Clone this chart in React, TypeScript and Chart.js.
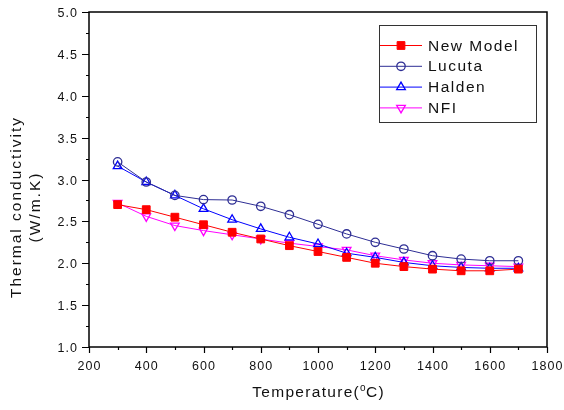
import React, { useEffect, useRef } from "react";
import { Chart, registerables } from "chart.js";

Chart.register(...registerables);

const temperatures = [300, 400, 500, 600, 700, 800, 900, 1000, 1100, 1200, 1300, 1400, 1500, 1600, 1700];
const newModel = [2.70, 2.64, 2.55, 2.46, 2.37, 2.29, 2.21, 2.14, 2.07, 2.00, 1.96, 1.93, 1.91, 1.91, 1.93];
const lucuta = [3.21, 2.97, 2.81, 2.76, 2.755, 2.68, 2.58, 2.465, 2.35, 2.25, 2.17, 2.09, 2.05, 2.03, 2.03];
const halden = [3.16, 2.97, 2.81, 2.65, 2.52, 2.41, 2.31, 2.23, 2.12, 2.07, 2.01, 1.97, 1.95, 1.94, 1.94];
const nfi = [2.72, 2.56, 2.45, 2.39, 2.34, 2.29, 2.24, 2.20, 2.16, 2.09, 2.04, 2.00, 1.98, 1.97, 1.96];

const seriesNames = ["New Model", "Lucuta", "Halden", "NFI"];
const xTicks = [200, 400, 600, 800, 1000, 1200, 1400, 1600, 1800];
const yTicks = [1.0, 1.5, 2.0, 2.5, 3.0, 3.5, 4.0, 4.5, 5.0];
const xTitle = ["Temperature(", "o", "C)"];
const yTitle = ["Thermal conductivity", "(W/m.K)"];

const FONT = '"Liberation Sans", Arial, sans-serif';

function textWidth(ctx: CanvasRenderingContext2D, text: string, font: string, spacing: number) {
  ctx.font = font;
  (ctx as any).letterSpacing = "0px";
  return ctx.measureText(text).width + spacing * (text.length - 1);
}

function drawText(ctx: CanvasRenderingContext2D, text: string, x: number, y: number, font: string, spacing: number) {
  ctx.font = font;
  (ctx as any).letterSpacing = spacing + "px";
  ctx.textAlign = "left";
  ctx.fillText(text, x, y);
  (ctx as any).letterSpacing = "0px";
}

function legendMarker(ctx: CanvasRenderingContext2D, ds: any, x: number, y: number) {
  const r = ds.pointRadius;
  const style = ds.pointStyle;
  ctx.beginPath();
  if (style === "rect") {
    const h = r * Math.SQRT1_2;
    ctx.rect(x - h, y - h, 2 * h, 2 * h);
  } else if (style === "circle") {
    ctx.arc(x, y, r, 0, Math.PI * 2);
  } else {
    const rot = ((ds.pointRotation || 0) * Math.PI) / 180;
    for (let k = 0; k < 3; k++) {
      const ang = rot + (k * 2 * Math.PI) / 3;
      const px = x + Math.sin(ang) * r;
      const py = y - Math.cos(ang) * r;
      if (k === 0) ctx.moveTo(px, py);
      else ctx.lineTo(px, py);
    }
    ctx.closePath();
  }
  ctx.fillStyle = ds.pointBackgroundColor;
  ctx.fill();
  ctx.strokeStyle = ds.pointBorderColor;
  ctx.lineWidth = ds.pointBorderWidth;
  ctx.stroke();
}

const customPlugin = {
  id: "customAxes",
  afterDraw(chart: any) {
    const ctx: CanvasRenderingContext2D = chart.ctx;
    const a = chart.chartArea;
    const xs = chart.scales.x;
    const ys = chart.scales.y;
    ctx.save();
    ctx.strokeStyle = "#000";
    ctx.fillStyle = "#000";
    // frame
    ctx.lineWidth = 1.5;
    ctx.strokeRect(a.left, a.top, a.right - a.left, a.bottom - a.top);
    ctx.lineWidth = 1.2;
    ctx.beginPath();
    xTicks.forEach((v, i) => {
      const px = Math.round(xs.getPixelForValue(v)) + 0.5;
      ctx.moveTo(px, a.bottom);
      ctx.lineTo(px, a.bottom + 6);
      if (i < xTicks.length - 1) {
        const mv = (v + xTicks[i + 1]) / 2;
        const mx = Math.round(xs.getPixelForValue(mv)) + 0.5;
        ctx.moveTo(mx, a.bottom);
        ctx.lineTo(mx, a.bottom + 3);
      }
    });
    yTicks.forEach((v, i) => {
      const py = Math.round(ys.getPixelForValue(v)) + 0.5;
      ctx.moveTo(a.left, py);
      ctx.lineTo(a.left - 7, py);
      if (i < yTicks.length - 1) {
        const mv = (v + yTicks[i + 1]) / 2;
        const my = Math.round(ys.getPixelForValue(mv)) + 0.5;
        ctx.moveTo(a.left, my);
        ctx.lineTo(a.left - 3, my);
      }
    });
    ctx.stroke();

    // tick labels
    const tickFont = "12.5px " + FONT;
    const tickSp = 1.1;
    ctx.textBaseline = "alphabetic";
    ctx.fillStyle = "#111";
    xTicks.forEach((v) => {
      const t = String(v);
      const w = textWidth(ctx, t, tickFont, tickSp);
      const px = xs.getPixelForValue(v);
      drawText(ctx, t, px - w / 2, a.bottom + 23, tickFont, tickSp);
    });
    yTicks.forEach((v) => {
      const t = v.toFixed(1);
      const w = textWidth(ctx, t, tickFont, tickSp);
      const py = ys.getPixelForValue(v);
      drawText(ctx, t, a.left - 12 - w, py + 5, tickFont, tickSp);
    });

    // x title
    const tFont = "15.5px " + FONT;
    const tSp = 1.3;
    const supFont = "10px " + FONT;
    const w1 = textWidth(ctx, xTitle[0], tFont, tSp) + tSp;
    const w2 = textWidth(ctx, xTitle[1], supFont, 0) + 0.5;
    const w3 = textWidth(ctx, xTitle[2], tFont, tSp);
    const total = w1 + w2 + w3;
    const cx = (a.left + a.right) / 2;
    let sx = cx - total / 2;
    const by = 397;
    drawText(ctx, xTitle[0], sx, by, tFont, tSp);
    sx += w1;
    drawText(ctx, xTitle[1], sx, by - 6.5, supFont, 0);
    sx += w2;
    drawText(ctx, xTitle[2], sx, by, tFont, tSp);

    // y title
    const ytFont = "15.5px " + FONT;
    const ytSp = 2;
    const cy = 208;
    ctx.save();
    ctx.translate(21, cy);
    ctx.rotate(-Math.PI / 2);
    const l1 = textWidth(ctx, yTitle[0], ytFont, ytSp);
    drawText(ctx, yTitle[0], -l1 / 2, 0, ytFont, ytSp);
    ctx.restore();
    ctx.save();
    ctx.translate(40, cy);
    ctx.rotate(-Math.PI / 2);
    const l2 = textWidth(ctx, yTitle[1], ytFont, ytSp);
    drawText(ctx, yTitle[1], -l2 / 2, 0, ytFont, ytSp);
    ctx.restore();

    // legend
    const lx = 379, ly = 25, lw = 157, lh = 97;
    ctx.lineWidth = 1;
    ctx.strokeStyle = "#333";
    ctx.strokeRect(lx + 0.5, ly + 0.5, lw, lh);
    const legFont = "15.5px " + FONT;
    chart.data.datasets.forEach((ds: any, i: number) => {
      const ey = 45 + i * 20.8;
      ctx.strokeStyle = ds.borderColor;
      ctx.lineWidth = 1;
      ctx.beginPath();
      ctx.moveTo(380, ey + 0.5);
      ctx.lineTo(422, ey + 0.5);
      ctx.stroke();
      legendMarker(ctx, ds, 401, ey + 0.5);
      ctx.fillStyle = "#111";
      drawText(ctx, seriesNames[i], 428, ey + 5.5, legFont, 1.5);
    });
    ctx.restore();
  },
};

export default function App() {
  const canvasRef = useRef<HTMLCanvasElement | null>(null);
  useEffect(() => {
    if (!canvasRef.current) return;
    const mk = (vals: number[]) => temperatures.map((t, i) => ({ x: t, y: vals[i] }));
    const chart = new Chart(canvasRef.current, {
      type: "line",
      data: {
        datasets: [
          {
            label: seriesNames[0],
            data: mk(newModel),
            borderColor: "#ff0000",
            backgroundColor: "#ff0000",
            pointBackgroundColor: "#ff0000",
            pointBorderColor: "#ff0000",
            pointStyle: "rect",
            pointRadius: 5.5,
            borderWidth: 1,
            pointBorderWidth: 1,
          },
          {
            label: seriesNames[1],
            data: mk(lucuta),
            borderColor: "#2e2e94",
            backgroundColor: "rgba(0,0,0,0)",
            pointBackgroundColor: "rgba(0,0,0,0)",
            pointBorderColor: "#2e2e94",
            pointStyle: "circle",
            pointRadius: 4.2,
            borderWidth: 1,
            pointBorderWidth: 1.3,
          },
          {
            label: seriesNames[2],
            data: mk(halden),
            borderColor: "#0000ff",
            backgroundColor: "rgba(0,0,0,0)",
            pointBackgroundColor: "rgba(0,0,0,0)",
            pointBorderColor: "#0000ff",
            pointStyle: "triangle",
            pointRadius: 5,
            borderWidth: 1,
            pointBorderWidth: 1.3,
          },
          {
            label: seriesNames[3],
            data: mk(nfi),
            borderColor: "#ff00ff",
            backgroundColor: "rgba(0,0,0,0)",
            pointBackgroundColor: "rgba(0,0,0,0)",
            pointBorderColor: "#ff00ff",
            pointStyle: "triangle",
            pointRotation: 180,
            pointRadius: 5,
            borderWidth: 1,
            pointBorderWidth: 1.3,
          } as any,
        ],
      },
      options: {
        responsive: false,
        animation: false,
        layout: { padding: { top: 12, right: 17, left: 0, bottom: 0 } },
        plugins: { legend: { display: false }, tooltip: { enabled: false } },
        scales: {
          x: {
            type: "linear",
            min: 200,
            max: 1800,
            ticks: { display: false, stepSize: 200 },
            grid: { display: false },
            border: { display: false },
            afterFit: (s: any) => { s.height = 63; },
          },
          y: {
            type: "linear",
            min: 1,
            max: 5,
            ticks: { display: false, stepSize: 0.5 },
            grid: { display: false },
            border: { display: false },
            afterFit: (s: any) => { s.width = 89; },
          },
        },
      },
      plugins: [customPlugin],
    });
    return () => chart.destroy();
  }, []);
  return (
    <div style={{ position: "absolute", left: 0, top: 0, width: 564, height: 410, background: "#fff" }}>
      <canvas ref={canvasRef} width={564} height={410} style={{ display: "block", width: 564, height: 410 }} />
    </div>
  );
}
